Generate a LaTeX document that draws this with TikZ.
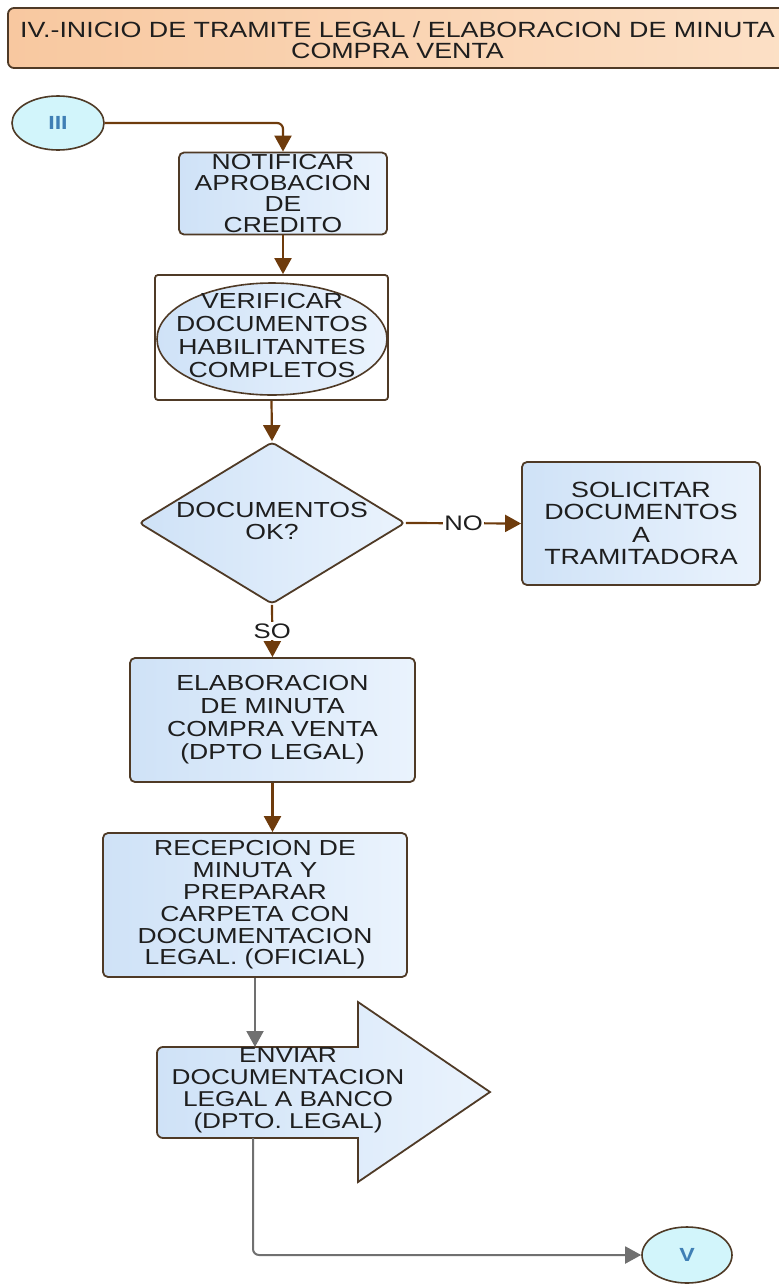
\documentclass[tikz,border=0pt]{standalone}
\usepackage{fontspec}
\setmainfont[FakeStretch=1.22]{Liberation Sans}
\usetikzlibrary{arrows.meta,shapes.geometric,calc}

\definecolor{edgebrown}{HTML}{4F3A26}
\definecolor{flowbrown}{HTML}{6E3B0C}
\definecolor{flowgray}{HTML}{707070}
\definecolor{blueL}{HTML}{CFE2F7}
\definecolor{blueR}{HTML}{EAF3FD}
\definecolor{peachL}{HTML}{F8C8A0}
\definecolor{peachR}{HTML}{FCE0C6}
\definecolor{cyanfill}{HTML}{D2F5FB}
\definecolor{markblue}{HTML}{3F7FB5}
\definecolor{inkdark}{HTML}{1E1E1E}

\tikzset{
  x=1pt, y=-1pt,
  procbox/.style={draw=edgebrown, line width=1.8pt, rounded corners=5pt,
    left color=blueL, right color=blueR, align=center, text=inkdark,
    inner sep=0pt, font=\fontsize{21.8}{22.5}\selectfont},
  shapetext/.style={align=center, text=inkdark, inner sep=0pt},
  connector/.style={ellipse, draw=edgebrown, line width=1.6pt,
    fill=cyanfill, inner sep=0pt, text=markblue,
    font=\fontsize{19}{19}\selectfont\bfseries},
  flow/.style={draw=flowbrown, line width=2.2pt,
    -{Triangle[length=16pt,width=17pt]}},
  grayflow/.style={draw=flowgray, line width=2pt,
    -{Triangle[length=16pt,width=17pt]}},
  flowlabel/.style={fill=white, inner sep=1.5pt, text=inkdark,
    font=\fontsize{21}{21}\selectfont}
}

\begin{document}
\begin{tikzpicture}
\useasboundingbox (0,0) rectangle (779,1285);

% header banner (runs past the right edge)
\node (title) [draw=edgebrown, line width=1.8pt, rounded corners=6pt,
  left color=peachL, right color=peachR, minimum width=782pt,
  minimum height=60pt, inner sep=0pt] at (399,38) {};
\node (titletext) [shapetext, font=\fontsize{22}{21.5}\selectfont] at (397.5,40)
  {IV.-INICIO DE TRAMITE LEGAL / ELABORACION DE MINUTA\\COMPRA VENTA};

% off-page connectors
\node (iii) [connector, minimum width=92pt, minimum height=54pt] at (58,123) {III};
\node (v) [connector, minimum width=90pt, minimum height=56pt] at (687,1255) {V};

% process steps
\node (notif) [procbox, minimum width=208pt, minimum height=82pt,
  font=\fontsize{21.7}{20.7}\selectfont] at (283,193.5)
  {NOTIFICAR\\APROBACION\\DE\\CREDITO};

\node (verbox) [draw=edgebrown, line width=1.8pt, rounded corners=3pt,
  minimum width=233pt, minimum height=125pt] at (271.5,337.5) {};
\node (verell) [ellipse, draw=edgebrown, line width=1.6pt,
  left color=blueL, right color=blueR, minimum width=230pt,
  minimum height=112pt, inner sep=0pt,
  label={[shapetext, yshift=3.5pt, font=\fontsize{21.8}{23}\selectfont]center:{VERIFICAR\\DOCUMENTOS\\HABILITANTES\\COMPLETOS}}]
  at (272,339) {};

\node (dec) [diamond, draw=edgebrown, line width=1.8pt, rounded corners=4pt,
  left color=blueL, right color=blueR, minimum width=266pt,
  minimum height=162pt, inner sep=0pt,
  label={[shapetext, yshift=2pt, font=\fontsize{21.8}{22}\selectfont]center:{DOCUMENTOS\\OK?}}]
  at (272,523) {};

\node (sol) [procbox, minimum width=238pt, minimum height=123pt,
  font=\fontsize{22}{22.3}\selectfont] at (641,523.5)
  {SOLICITAR\\DOCUMENTOS\\A\\TRAMITADORA};

\node (elab) [procbox, minimum width=285pt, minimum height=124pt,
  font=\fontsize{21.8}{23}\selectfont] at (272.5,720)
  {ELABORACION\\DE MINUTA\\COMPRA VENTA\\(DPTO LEGAL)};

\node (recep) [procbox, minimum width=304pt, minimum height=144pt,
  font=\fontsize{21.7}{21.8}\selectfont] at (255,905)
  {RECEPCION DE\\MINUTA Y\\PREPARAR\\CARPETA CON\\DOCUMENTACION\\LEGAL. (OFICIAL)};

% block arrow for the sending step
\draw[draw=edgebrown, line width=1.8pt, left color=blueL, right color=blueR,
  rounded corners=6pt]
  (260,1047) -- (157,1047) -- (157,1138) -- (260,1138) [sharp corners]
  -- (358,1138) -- (358,1182) -- (490,1092) -- (358,1002) -- (358,1047) -- cycle;
\coordinate (envtop) at (255,1047);
\coordinate (envbot) at (253,1138);
\node (env) [shapetext, font=\fontsize{21.5}{22}\selectfont] at (288,1090)
  {ENVIAR\\DOCUMENTACION\\LEGAL A BANCO\\(DPTO. LEGAL)};

% connectors
\draw[flow, rounded corners=6pt] (iii.east) -| (notif.north);
\draw[flow] (notif.south) -- (notif.south |- verbox.north);
\draw[flow] (verbox.south) -- (dec.north);
\draw[flow] (dec.east) -- node[flowlabel] {NO} (sol.west);
\draw[flow] (dec.south) -- node[flowlabel] {SO} (elab.north);
\draw[flow] (elab.south) -- (elab.south |- recep.north);
\draw[grayflow] (recep.south) -- (envtop);
\draw[grayflow, rounded corners=6pt] (envbot) |- (v.west);
\end{tikzpicture}
\end{document}
